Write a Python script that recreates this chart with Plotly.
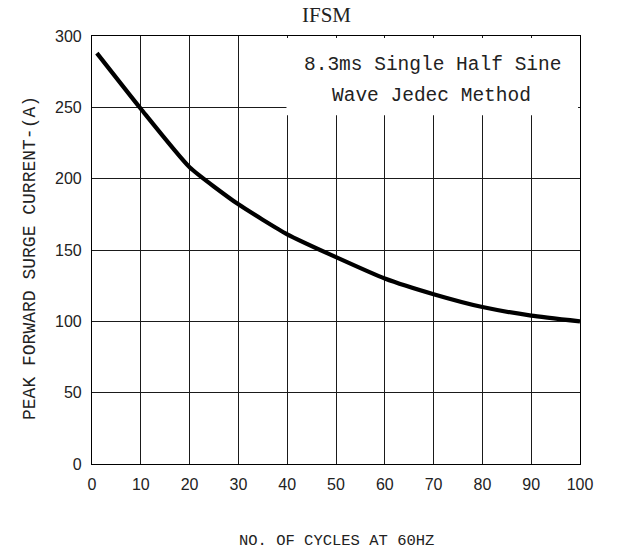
import plotly.graph_objects as go

# Data
cycles = [1, 10, 20, 30, 40, 50, 60, 70, 80, 90, 100]
ifsm_a = [288, 249, 208, 182, 161, 145, 130, 119, 110, 104, 100]
x_ticks = [0, 10, 20, 30, 40, 50, 60, 70, 80, 90, 100]
y_ticks = [0, 50, 100, 150, 200, 250, 300]

W, H = 622, 557
L, R, T, B = 92, 42, 36, 93
PW, PH = W - L - R, H - T - B

fig = go.Figure()
fig.add_trace(go.Scatter(
    x=cycles, y=ifsm_a, mode="lines",
    line=dict(color="black", width=4.2, shape="spline", smoothing=0.5),
    showlegend=False, hoverinfo="skip",
))

axis_common = dict(
    showgrid=True, gridcolor="#1a1a1a", gridwidth=1,
    showline=True, linecolor="black", linewidth=1.2, mirror=True,
    zeroline=False, ticks="",
    tickfont=dict(family="Liberation Sans", size=16, color="#222"),
)
fig.update_xaxes(range=[0, 100], tickvals=x_ticks, ticktext=[str(v) for v in x_ticks],
                 ticklabelstandoff=6, **axis_common)
fig.update_yaxes(range=[0, 300], tickvals=y_ticks, ticktext=[str(v) for v in y_ticks],
                 ticklabelstandoff=6, **axis_common)

# white box hiding gridlines behind the note
fig.add_shape(type="rect", xref="x", yref="y", x0=39.85, x1=99.6, y0=244.5, y1=298.6,
              fillcolor="white", line=dict(width=0), layer="above")

mono = "Liberation Mono"
fig.add_annotation(xref="paper", yref="paper",
                   x=(432 - L) / PW, y=1 - (65 - T) / PH,
                   text="8.3ms Single Half Sine", showarrow=False,
                   font=dict(family=mono, size=19.5, color="#222"),
                   xanchor="center", yanchor="middle")
fig.add_annotation(xref="paper", yref="paper",
                   x=(431 - L) / PW, y=1 - (96 - T) / PH,
                   text="Wave Jedec Method", showarrow=False,
                   font=dict(family=mono, size=19.5, color="#222"),
                   xanchor="center", yanchor="middle")

# title
fig.add_annotation(xref="paper", yref="paper",
                   x=(326 - L) / PW, y=1 + (T - 15) / PH,
                   text="IFSM", showarrow=False,
                   font=dict(family="Liberation Serif", size=21, color="#222"),
                   xanchor="center", yanchor="middle")

# axis titles
fig.add_annotation(xref="paper", yref="paper",
                   x=(30 - L) / PW, y=1 - (258 - T) / PH,
                   text="PEAK FORWARD SURGE CURRENT-(A)", showarrow=False, textangle=-90,
                   font=dict(family=mono, size=18, color="#222"),
                   xanchor="center", yanchor="middle")
fig.add_annotation(xref="paper", yref="paper",
                   x=(336 - L) / PW, y=-(541 - T - PH) / PH,
                   text="NO. OF CYCLES AT 60HZ", showarrow=False,
                   font=dict(family=mono, size=15.5, color="#222"),
                   xanchor="center", yanchor="middle")

fig.update_layout(
    width=W, height=H,
    margin=dict(l=L, r=R, t=T, b=B, autoexpand=False),
    paper_bgcolor="white", plot_bgcolor="white",
)

fig.write_html("out.html", config={"displayModeBar": False},
               post_script="document.body.style.margin='0';")
